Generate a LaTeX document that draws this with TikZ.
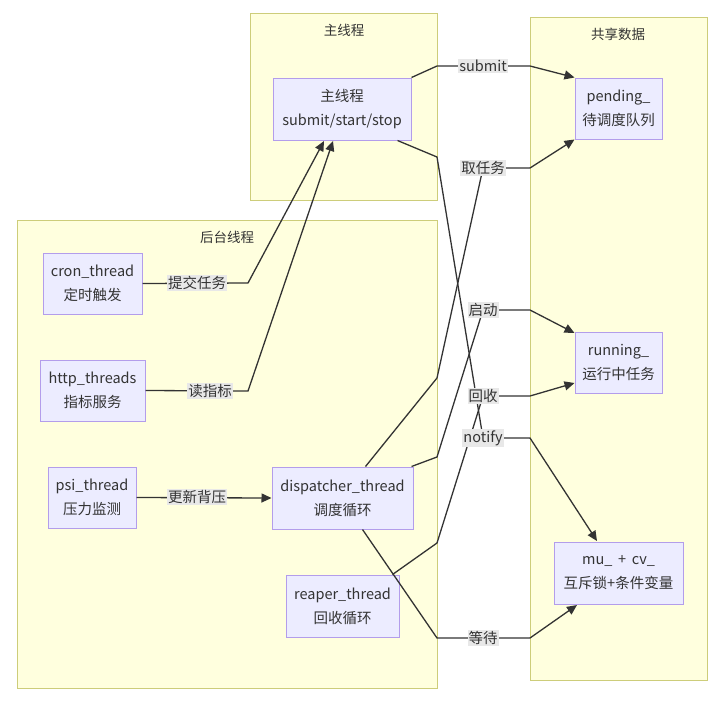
\documentclass[tikz,border=0pt]{standalone}
\usepackage{fontspec}
\setmainfont{Noto Sans CJK SC}
\usetikzlibrary{arrows.meta}
\definecolor{clfill}{HTML}{FFFFDE}
\definecolor{cldraw}{HTML}{CDCD7A}
\definecolor{ndfill}{HTML}{ECECFF}
\definecolor{nddraw}{HTML}{B39DEB}
\definecolor{edge}{HTML}{333333}
\definecolor{lblbg}{HTML}{E8E8E8}
\definecolor{txt}{HTML}{333333}
\tikzset{
  cluster/.style={draw=cldraw, fill=clfill, line width=1pt},
  cltitle/.style={text=txt, font=\fontsize{13.5}{16}\selectfont, inner sep=0pt},
  box/.style={draw=nddraw, fill=ndfill, line width=1pt, text=txt, align=center,
    font=\fontsize{14.5}{24}\selectfont, inner sep=0pt},
  lbl/.style={fill=lblbg, text=txt, font=\fontsize{14.5}{16}\selectfont, inner sep=1pt},
  conn/.style={draw=edge, line width=1.3pt},
  arr/.style={conn, -{Triangle[length=10pt,width=9pt]}}
}
\begin{document}
\begin{tikzpicture}[x=1pt,y=-1pt]
\useasboundingbox (0,0) rectangle (720,702);
% clusters
\draw[cluster] (250,13) rectangle (437,200);
\draw[cluster] (530,17) rectangle (707,680);
\draw[cluster] (17,220) rectangle (437,688);
\node[cltitle] (tmain) at (344,30) {主线程};
\node[cltitle] (tshared) at (618,34) {共享数据};
\node[cltitle] (tbg) at (227,237) {后台线程};
% nodes
\node[box, minimum width=138pt, minimum height=62pt] (main) at (342,109) {主线程\\submit/start/stop};
\node[box, minimum width=87pt, minimum height=61pt] (pending) at (618.5,108.5) {pending\_\\待调度队列};
\node[box, minimum width=87pt, minimum height=61pt] (running) at (618.5,362.5) {running\_\\运行中任务};
\node[box, minimum width=129pt, minimum height=62pt] (mu) at (618.5,573) {mu\_ \,+\, cv\_\\互斥锁+条件变量};
\node[box, minimum width=99pt, minimum height=61pt] (cron) at (92.5,283.5) {cron\_thread\\定时触发};
\node[box, minimum width=105pt, minimum height=61pt] (http) at (92.5,390.5) {http\_threads\\指标服务};
\node[box, minimum width=88pt, minimum height=61pt] (psi) at (92,497.5) {psi\_thread\\压力监测};
\node[box, minimum width=141pt, minimum height=62pt] (disp) at (342.5,498) {dispatcher\_thread\\调度循环};
\node[box, minimum width=113pt, minimum height=62pt] (reaper) at (342.5,606) {reaper\_thread\\回收循环};
% edges
\draw[arr] (main.north east) -- (437,66) -- (530,66) -- (pending.north west);
\draw[arr] (disp.north) ++(23,0) -- (437,378) -- (483,168) -- (530,168) -- (pending.south west);
\draw[arr] (main.south east) ++(-14,0) -- (437,157) -- (483,438) -- (530,438) -- (597,541);
\draw[arr] (disp.north east) ++(-2,0) -- (437,457) -- (483,310) -- (530,310) -- (running.west |- 0,333);
\draw[arr] (reaper.north east) ++(-7,0) -- (437,543) -- (483,396) -- (530,396) -- (running.west |- 0,383);
\draw[arr] (disp.south) ++(20,0) -- (437,638) -- (530,638) -- (577,605);
\draw[arr] (cron.east) -- (248,283) -- (324,141);
\draw[arr] (http.east) -- (248,391) -- (333,141);
\draw[arr] (psi.east) -- (disp.west);
% labels
\node[lbl] (lsubmit) at (483,66) {submit};
\node[lbl] (ltake) at (483,168) {取任务};
\node[lbl] (lstart) at (483,310) {启动};
\node[lbl] (lreap) at (483,396) {回收};
\node[lbl] (lnotify) at (483,438) {notify};
\node[lbl] (lwait) at (483,638) {等待};
\node[lbl] (lcron) at (197,283) {提交任务};
\node[lbl] (lhttp) at (210,391) {读指标};
\node[lbl] (lpsi) at (197,497) {更新背压};
\end{tikzpicture}
\end{document}
